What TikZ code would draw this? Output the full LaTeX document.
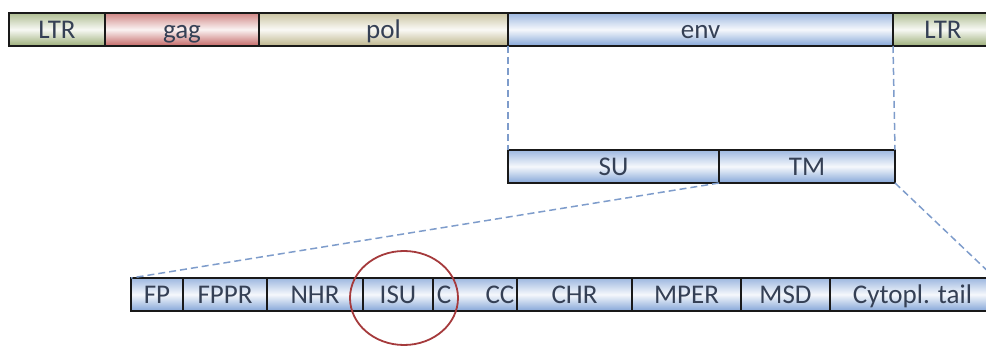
\documentclass[tikz,border=0pt]{standalone}
\usepackage{fontspec}
\setmainfont{Carlito}
\usetikzlibrary{shapes.geometric}
\definecolor{ltrc}{HTML}{9CAE78}
\definecolor{gagc}{HTML}{C46866}
\definecolor{polc}{HTML}{BDB58A}
\definecolor{envc}{HTML}{85A6D8}
\definecolor{txtc}{HTML}{354055}
\definecolor{linkc}{HTML}{7E9CCB}
\definecolor{ringc}{HTML}{A53A3C}
\begin{document}
\begin{tikzpicture}[x=1pt,y=-1pt,
  segbar/.style={draw=black!90, line width=2pt, inner sep=0pt, outer sep=0pt,
    minimum height=33pt, anchor=north west, text=txtc,
    text height=21pt, text depth=2pt,
    font=\fontsize{27}{30}\selectfont},
  shadeC/.style={top color=#1!80, bottom color=#1, middle color=#1!8},
  lbl/.style={inner sep=0pt, text=txtc, text height=21pt, text depth=2pt,
    font=\fontsize{27}{30}\selectfont},
  link/.style={draw=linkc, line width=1.5pt, dashed, dash pattern=on 7pt off 4pt}]
\useasboundingbox (0,0) rectangle (986,347);
\clip (0,0) rectangle (986,347);
% top genome bar
\node[segbar, shadeC=ltrc, minimum width=96pt] (ltrA) at (9,13) {LTR};
\node[segbar, shadeC=gagc, minimum width=154pt] (gag) at (105,13) {gag};
\node[segbar, shadeC=polc, minimum width=249pt] (pol) at (259,13) {pol};
\node[segbar, shadeC=envc, minimum width=385pt] (env) at (508,13) {env};
\node[segbar, shadeC=ltrc, minimum width=100pt] (ltrB) at (893,13) {LTR};
% SU / TM
\node[segbar, shadeC=envc, minimum width=211pt] (su) at (508,150) {SU};
\node[segbar, shadeC=envc, minimum width=176pt] (tm) at (719,150) {TM};
% bottom domain bar
\node[segbar, shadeC=envc, minimum width=52pt] (fp) at (131,278) {FP};
\node[segbar, shadeC=envc, minimum width=84pt] (fppr) at (183,278) {FPPR};
\node[segbar, shadeC=envc, minimum width=96pt] (nhr) at (267,278) {NHR};
\node[segbar, shadeC=envc, minimum width=70pt] (isu) at (363,278) {ISU};
\node[segbar, shadeC=envc, minimum width=84pt] (ccseg) at (433,278) {};
\node[segbar, shadeC=envc, minimum width=115pt] (chr) at (517,278) {CHR};
\node[segbar, shadeC=envc, minimum width=109pt] (mper) at (632,278) {MPER};
\node[segbar, shadeC=envc, minimum width=89pt] (msd) at (741,278) {MSD};
\node[segbar, shadeC=envc, minimum width=165pt] (cyto) at (830,278) {Cytopl. tail};
\node[lbl] (clbl) at (444,294.5) {C};
\node[lbl] (cclbl) at (500,294.5) {CC};
% dashed zoom connectors
\draw[link] (env.south west) -- (su.north west);
\draw[link] (env.south east) -- (tm.north east);
\draw[link] (su.south east) -- (fp.north west);
\draw[link] (tm.south east) -- (cyto.north east);
% highlight ring
\node[ellipse, draw=ringc, line width=1.8pt, minimum width=108pt, minimum height=94pt] (ring) at (404,298) {};
\end{tikzpicture}
\end{document}
